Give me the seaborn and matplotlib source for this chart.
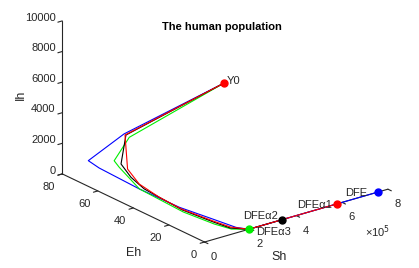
import numpy as np
import matplotlib
matplotlib.use('Agg')
import matplotlib.pyplot as plt
import seaborn as sns
from mpl_toolkits.mplot3d import proj3d

sns.set_style('white')
plt.rcParams['font.family'] = ['Liberation Sans', 'DejaVu Sans']

# trajectories of the human population (Sh, Eh, Ih)
blue_sh = [105000, 91000, 81000, 108000, 120000, 129000, 153000, 169000, 193000, 755000]
blue_eh = [2.5, 57.0, 75.8, 73.2, 52.1, 30.8, 15.1, 4.1, 0.0, 0.0]
blue_ih = [9800, 3500, 750, 300, 50, 0, 0, 0, 0, 0]

green_sh = [105000, 86000, 103000, 132000, 116000, 113000, 129000, 147000, 193000]
green_eh = [2.5, 53.4, 64.1, 65.0, 51.6, 26.5, 11.1, 3.8, 0.0]
green_ih = [9800, 3500, 1300, 700, 100, 0, 0, 0, 0]

black_sh = [105000, 90000, 112000, 133000, 129000, 122000, 138000, 150000, 193000, 336000]
black_eh = [2.5, 55.8, 61.4, 58.5, 50.5, 28.2, 12.8, 4.8, 0.0, 0.0]
black_ih = [9800, 3500, 1200, 400, 100, 0, 0, 0, 0, 0]

red_sh = [105000, 87500, 101000, 126000, 127000, 125000, 143000, 156000, 193000, 577000]
red_eh = [2.5, 56.0, 56.3, 53.0, 41.8, 29.1, 13.5, 5.5, 0.0, 0.0]
red_ih = [9800, 3500, 1200, 300, 50, 0, 0, 0, 0, 0]

# initial point and equilibria
point_names = ['Y0', 'DFE', 'DFE\u03b11', 'DFE\u03b12', 'DFE\u03b13']
point_sh = [105000, 755000, 577000, 336000, 193000]
point_eh = [2.5, 0.0, 0.0, 0.0, 0.0]
point_ih = [9800, 0, 0, 0, 0]
point_colors = ['#FF0000', '#0000FF', '#FF0000', '#000000', '#00EE00']

sh_ticks = [0, 2, 4, 6, 8]
eh_ticks = [0, 20, 40, 60, 80]
ih_ticks = [0, 2000, 4000, 6000, 8000, 10000]

W, H = 419, 268
fig = plt.figure(figsize=(W / 100, H / 100), dpi=100)
S0 = 300
ax = fig.add_axes([0.1, 0.0, S0 / W, S0 / H], projection='3d',
                  proj_type='ortho', computed_zorder=False)
ax.view_init(elev=21.8, azim=-127.8)
ax.set_box_aspect((1, 1, 0.71))

series = [
    (blue_sh, blue_eh, blue_ih, '#0000FF'),
    (green_sh, green_eh, green_ih, '#00EE00'),
    (black_sh, black_eh, black_ih, '#000000'),
    (red_sh, red_eh, red_ih, '#FF0000'),
]
for sh, eh, ih, c in series:
    ax.plot(np.array(sh) / 1e5, eh, ih, color=c, linewidth=0.8)

for sh, eh, ih, c in zip(point_sh, point_eh, point_ih, point_colors):
    ax.plot([sh / 1e5], [eh], [ih], 'o', color=c, markersize=5)

# point labels
fs = 8
ax.text(point_sh[0] / 1e5 + 0.1, point_eh[0], point_ih[0] + 100, point_names[0],
        ha='left', va='center', fontsize=fs)
ax.text(point_sh[1] / 1e5 - 0.47, 0, 150, point_names[1], ha='right', va='center', fontsize=fs)
ax.text(point_sh[2] / 1e5 - 0.2, 0, 0, point_names[2], ha='right', va='center', fontsize=fs)
ax.text(point_sh[3] / 1e5 - 0.17, 0, 320, point_names[3], ha='right', va='center', fontsize=fs)
ax.text(point_sh[4] / 1e5 + 0.32, 0, 0, point_names[4], ha='left', va='top', fontsize=fs)

ax.set_xlim(0, 8)
ax.set_ylim(0, 80)
ax.set_zlim(0, 10000)
ax.set_xticks(sh_ticks)
ax.set_yticks(eh_ticks)
ax.set_zticks(ih_ticks)
ax.set_xticklabels([str(t) for t in sh_ticks], fontsize=8, ha='left')
ax.set_yticklabels([str(t) for t in eh_ticks], fontsize=8, ha='right')
ax.set_zticklabels([str(t) for t in ih_ticks], fontsize=8, ha='right', va='baseline')
ax.tick_params(axis='x', pad=-2)
ax.tick_params(axis='y', pad=-2.5)
ax.tick_params(axis='z', pad=-5.3)
ax.grid(False)
for axis in (ax.xaxis, ax.yaxis, ax.zaxis):
    axis.set_pane_color((1, 1, 1, 0))
    axis.pane.set_edgecolor((1, 1, 1, 0))
    axis.line.set_color('#262626')
    axis.line.set_linewidth(0.8)
    axis.offsetText.set_visible(False)
    axis.label.set_visible(False)
    axis._axinfo['tick']['inward_factor'] = 0.3
    axis._axinfo['tick']['outward_factor'] = 0.0
for t in (ax.title, ax._left_title, ax._right_title):
    t.set_visible(False)

# fit the projected box onto the reference layout
fig.canvas.draw()
corners = np.array([[0, 0, 0], [8, 0, 0], [0, 80, 0], [0, 80, 10000]], float)
targets = np.array([[204, 243], [387, 190.5], [63, 173.5], [63, 19]], float)
targets[:, 1] = H - targets[:, 1]
xs, ys, _ = proj3d.proj_transform(corners[:, 0], corners[:, 1], corners[:, 2], ax.get_proj())
disp = ax.transData.transform(np.column_stack([xs, ys]))
frac = ax.transAxes.inverted().transform(disp)
A = np.zeros((8, 3))
b = np.zeros(8)
for i in range(4):
    A[2 * i] = [1, 0, frac[i, 0]]
    A[2 * i + 1] = [0, 1, frac[i, 1]]
    b[2 * i] = targets[i, 0]
    b[2 * i + 1] = targets[i, 1]
x0, y0, S = np.linalg.lstsq(A, b, rcond=None)[0]
ax.set_position([x0 / W, y0 / H, S / W, S / H])

# titles and axis names
fig.text(222 / W, 1 - 26.5 / H, 'The human population', ha='center', va='center',
         fontsize=8, fontweight='bold', color='black')
fig.text(279.5 / W, 1 - 257 / H, 'Sh', ha='center', va='center', fontsize=9)
fig.text(133.5 / W, 1 - 253 / H, 'Eh', ha='center', va='center', fontsize=9)
fig.text(20.5 / W, 1 - 95 / H, 'Ih', ha='center', va='center', fontsize=9, rotation=90)
fig.text(365 / W, 1 - 232 / H, '\u00d710$^{5}$', ha='left', va='center', fontsize=8)

fig.savefig('out.png', dpi=100)
